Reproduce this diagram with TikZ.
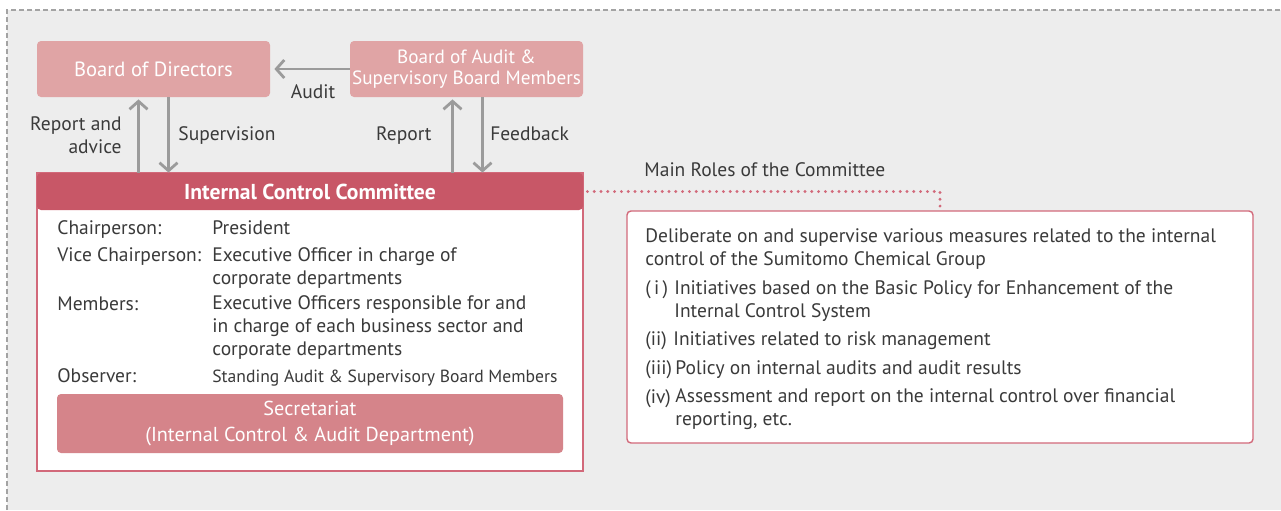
\documentclass[tikz,border=0pt]{standalone}
\usepackage{fontspec}
\setmainfont{PT Sans}
\usepackage{xcolor}
\usetikzlibrary{arrows.meta, positioning}

\definecolor{panelgrey}{HTML}{EDEDED}
\definecolor{dashgrey}{HTML}{A3A3A3}
\definecolor{boardpink}{HTML}{E0A4A5}
\definecolor{headred}{HTML}{C85767}
\definecolor{secpink}{HTML}{D5848A}
\definecolor{linered}{HTML}{D2697A}
\definecolor{arrowgrey}{HTML}{9B9B9B}
\definecolor{textgrey}{HTML}{3A3A3A}

\begin{document}
\begin{tikzpicture}[
    x=0.5pt, y=-0.5pt,
    board/.style={rectangle, rounded corners=2pt, fill=boardpink, text=white, align=center, minimum width=116.5pt, minimum height=28pt, inner sep=0pt, font=\fontsize{10.3}{10.5}\selectfont},
    txt/.style={anchor=base west, inner sep=0pt, align=left, text=textgrey, font=\fontsize{9.75}{11.5}\selectfont},
    arrow/.style={-{Straight Barb[length=4pt, width=9pt]}, line width=1.4pt, arrowgrey},
    dotline/.style={line width=1.6pt, linered, dash pattern=on 0pt off 3.4pt, line cap=round},
]
% panel
\useasboundingbox (0,0) rectangle (1281,510);
\fill[panelgrey] (7,10) rectangle (1281,510);
\draw[dashgrey, line width=0.6pt, dash pattern=on 2.5pt off 1.5pt] (7,510) -- (7,10) -- (1281,10);

% boards (multi-line texts: base = last line)
\node[board] (bod) at (153.5,69) {Board of Directors};
\node[board, font=\fontsize{9.6}{10.5}\selectfont] (boa) at (466.5,69) {Board of Audit \&\\Supervisory Board Members};

% committee
\node[rectangle, draw=linered, fill=white, line width=0.7pt, minimum width=273pt, minimum height=149pt, inner sep=0pt] (icc) at (310,322) {};
\node[rectangle, rounded corners=2pt, fill=headred, text=white, minimum width=273pt, minimum height=18.5pt, inner sep=0pt, font=\bfseries\fontsize{10.8}{11}\selectfont] (head) at (310,191.5) {Internal Control Committee};
\node[rectangle, rounded corners=2pt, fill=secpink, text=white, align=center, minimum width=253pt, minimum height=29.5pt, inner sep=0pt, font=\fontsize{10.1}{13}\selectfont] (sec) at (310,423.5) {Secretariat\\(Internal Control \& Audit Department)};

\node[txt] (chair) at (57,234) {Chairperson:};
\node[txt] (chairv) at (212,234) {President};
\node[txt] (vice) at (57,261) {Vice Chairperson:};
\node[txt] (vicev) at (212,284) {Executive Officer in charge of\\corporate departments};
\node[txt] (memb) at (57,310) {Members:};
\node[txt] (membv) at (212,355) {Executive Officers responsible for and\\in charge of each business sector and\\corporate departments};
\node[txt] (obs) at (57,382) {Observer:};
\node[txt, font=\fontsize{8.8}{11}\selectfont] (obsv) at (212,382) {Standing Audit \& Supervisory Board Members};

% main roles
\node[rectangle, draw=linered, fill=white, rounded corners=2pt, line width=0.7pt, minimum width=313pt, minimum height=116pt, inner sep=0pt] (roles) at (940,327) {};
\node[txt] (mainlbl) at (644,176) {Main Roles of the Committee};
\node[txt] (intro) at (645,265) {Deliberate on and supervise various measures related to the internal\\control of the Sumitomo Chemical Group};
\node[txt] (r1n) at (645,294) {(\,i\,)};
\node[txt] (r1) at (674,317) {Initiatives based on the Basic Policy for Enhancement of the\\Internal Control System};
\node[txt] (r2n) at (645,345) {(ii)};
\node[txt] (r2) at (673,345) {Initiatives related to risk management};
\node[txt] (r3n) at (645,374) {(iii)};
\node[txt] (r3) at (675,374) {Policy on internal audits and audit results};
\node[txt] (r4n) at (645,403) {(iv)};
\node[txt] (r4) at (675,425) {Assessment and report on the internal control over financial\\reporting, etc.};

% connectors
\draw[arrow] ([xshift=-7.5pt]bod.south |- head.north) -- ([xshift=-7.5pt, yshift=-1pt]bod.south);
\draw[arrow] ([xshift=7.5pt]bod.south) -- ([xshift=7.5pt]bod.south |- head.north);
\draw[arrow] ([xshift=-7pt]boa.south |- head.north) -- ([xshift=-7pt, yshift=-1pt]boa.south);
\draw[arrow] ([xshift=8pt]boa.south) -- ([xshift=8pt]boa.south |- head.north);
\draw[arrow] (boa.west) -- ([xshift=2pt]bod.east);
\draw[dotline] ([xshift=2pt]head.east) -- (head.east -| roles.north) -- (roles.north);

\node[txt, anchor=base east, align=right] (rpadv) at (122,153) {Report and\\advice};
\node[txt] (supv) at (178,140) {Supervision};
\node[txt, anchor=base east] (rep) at (432,140) {Report};
\node[txt] (feed) at (490,140) {Feedback};
\node[txt, anchor=base] (aud) at (313,98) {Audit};
\end{tikzpicture}
\end{document}
